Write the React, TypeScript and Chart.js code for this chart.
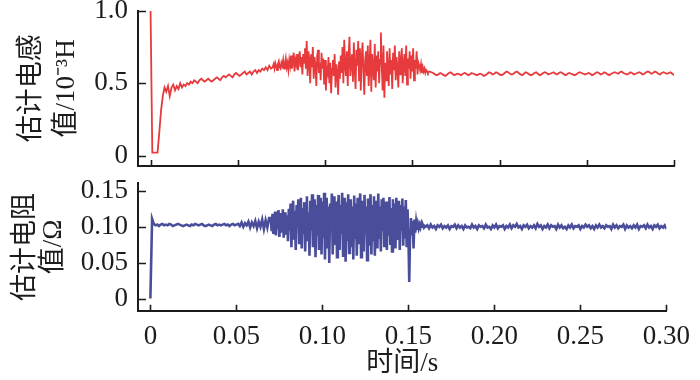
import React, { useEffect, useRef } from "react";
import { Chart, registerables } from "chart.js";

Chart.register(...registerables);

// sampling: 1 ms outside the oscillation, 0.5 ms inside it
const STEP = 0.001;
const FINE_STEP = 0.0005;
const NOISY_START = 0.07;
const STEADY_START = 0.16;

// x axis
const xTicks = [0, 0.05, 0.1, 0.15, 0.2, 0.25, 0.3];
const xTickLabels = ["0", "0.05", "0.10", "0.15", "0.20", "0.25", "0.30"];

// top panel: estimated inductance (10^-3 H)
const topTicks = [0, 0.5, 1.0];
const topTickLabels = ["0", "0.5", "1.0"];

// bottom panel: estimated resistance (Ω)
const botTicks = [0, 0.05, 0.1, 0.15];
const botTickLabels = ["0", "0.05", "0.10", "0.15"];

// inductance, t = 0 … 0.069 s (1 ms)
const inductanceStart = [
  1.0, 0.02, 0.02, 0.02, 0.02, 0.16, 0.31, 0.41, 0.47,
  0.44, 0.48, 0.41, 0.47, 0.49, 0.45, 0.48, 0.46, 0.5, 0.47, 0.49, 0.48,
  0.5, 0.49, 0.51, 0.5, 0.52, 0.51, 0.5, 0.52, 0.53, 0.52, 0.51, 0.52, 0.53, 0.52, 0.51,
  0.52, 0.53, 0.54, 0.53, 0.52, 0.54, 0.55, 0.54, 0.55, 0.56, 0.55, 0.54, 0.56, 0.57, 0.56, 0.55, 0.56, 0.57, 0.58, 0.56,
  0.57, 0.58, 0.56, 0.58, 0.59, 0.57, 0.59, 0.58, 0.6, 0.59, 0.61, 0.59, 0.62, 0.6,
];
// inductance, t = 0.0700 … 0.1595 s (0.5 ms)
const inductanceNoisy = [
  0.61, 0.63, 0.6, 0.64, 0.62, 0.59, 0.63, 0.65, 0.61, 0.6, 0.64, 0.62, 0.66, 0.6, 0.63, 0.67, 0.61, 0.64, 0.59, 0.66,
  0.62, 0.69, 0.6, 0.65, 0.71, 0.58, 0.66, 0.63, 0.7, 0.59, 0.67, 0.72, 0.61, 0.68, 0.56, 0.7, 0.64, 0.74, 0.6, 0.79,
  0.55, 0.72, 0.66, 0.5, 0.7, 0.61, 0.75, 0.53, 0.68, 0.62, 0.48, 0.69, 0.73, 0.57, 0.64, 0.52, 0.71, 0.6, 0.67, 0.49,
  0.66, 0.45, 0.62, 0.58, 0.68, 0.5, 0.64, 0.43, 0.6, 0.66, 0.55, 0.7, 0.47, 0.63, 0.58, 0.42, 0.65, 0.53, 0.69, 0.57,
  0.75, 0.5, 0.8, 0.62, 0.55, 0.72, 0.48, 0.68, 0.82, 0.55, 0.64, 0.7, 0.51, 0.78, 0.6, 0.46, 0.73, 0.62, 0.79, 0.52,
  0.74, 0.45, 0.68, 0.78, 0.58, 0.42, 0.66, 0.72, 0.55, 0.76, 0.48, 0.63, 0.8, 0.44, 0.7, 0.6, 0.52, 0.77, 0.47, 0.69,
  0.58, 0.72, 0.5, 0.66, 0.85, 0.62, 0.45, 0.76, 0.4, 0.64, 0.52, 0.72, 0.6, 0.48, 0.74, 0.56, 0.66, 0.46, 0.71, 0.59,
  0.76, 0.52, 0.68, 0.6, 0.47, 0.72, 0.56, 0.66, 0.74, 0.5, 0.63, 0.7, 0.55, 0.76, 0.49, 0.67, 0.6, 0.72, 0.53, 0.69,
  0.58, 0.74, 0.52, 0.66, 0.6, 0.72, 0.56, 0.64, 0.62, 0.59, 0.63, 0.57, 0.61, 0.58, 0.6, 0.57, 0.59, 0.58, 0.57, 0.58,
];
// inductance, t = 0.160 … 0.300 s (1 ms)
const inductanceSteady = [
  0.58,
  0.575, 0.57, 0.56, 0.555, 0.56, 0.57, 0.565, 0.555, 0.55, 0.56, 0.57, 0.575, 0.565, 0.555, 0.56, 0.565, 0.56, 0.555, 0.565, 0.57,
  0.565, 0.555, 0.56, 0.57, 0.565, 0.56, 0.555, 0.56, 0.565, 0.56, 0.55, 0.555, 0.565, 0.575, 0.57, 0.56, 0.565, 0.575, 0.57, 0.56,
  0.555, 0.56, 0.57, 0.58, 0.575, 0.565, 0.56, 0.565, 0.575, 0.58, 0.57, 0.56, 0.555, 0.565, 0.575, 0.57, 0.56, 0.555, 0.56, 0.57,
  0.575, 0.565, 0.555, 0.56, 0.57, 0.575, 0.57, 0.56, 0.565, 0.57, 0.575, 0.565, 0.56, 0.57, 0.575, 0.57, 0.56, 0.555, 0.565, 0.57,
  0.565, 0.56, 0.555, 0.56, 0.57, 0.575, 0.57, 0.565, 0.56, 0.565, 0.57, 0.565, 0.555, 0.56, 0.57, 0.575, 0.57, 0.56, 0.565, 0.575,
  0.57, 0.56, 0.555, 0.565, 0.57, 0.575, 0.57, 0.565, 0.575, 0.58, 0.57, 0.565, 0.56, 0.565, 0.575, 0.57, 0.56, 0.565, 0.57, 0.575,
  0.57, 0.56, 0.565, 0.575, 0.58, 0.575, 0.565, 0.57, 0.58, 0.575, 0.565, 0.56, 0.57, 0.575, 0.57, 0.565, 0.57, 0.575, 0.565, 0.555,
];

// resistance, t = 0 … 0.069 s (1 ms)
const resistanceStart = [
  0.001, 0.111,
  0.104, 0.102, 0.103, 0.101, 0.103, 0.104, 0.102, 0.103, 0.102, 0.104,
  0.103, 0.101, 0.102, 0.103, 0.104, 0.103, 0.102, 0.101, 0.102, 0.103,
  0.102, 0.101, 0.103, 0.102, 0.104, 0.103, 0.102, 0.103, 0.104, 0.102,
  0.101, 0.102, 0.103, 0.102, 0.101, 0.103, 0.104, 0.102, 0.103, 0.102,
  0.103, 0.104, 0.102, 0.103, 0.101, 0.103, 0.104, 0.102, 0.103,
  0.104, 0.101, 0.106, 0.1, 0.105, 0.102, 0.107, 0.099, 0.106, 0.101, 0.108, 0.098, 0.107, 0.1, 0.11, 0.097, 0.109, 0.099, 0.112,
];
// resistance, t = 0.0700 … 0.1595 s (0.5 ms)
const resistanceNoisy = [
  0.112, 0.094, 0.118, 0.09, 0.106, 0.121, 0.088, 0.115, 0.097, 0.123, 0.086, 0.11, 0.119, 0.092, 0.124, 0.085, 0.108, 0.12, 0.089, 0.116,
  0.08, 0.125, 0.095, 0.132, 0.072, 0.118, 0.136, 0.084, 0.122, 0.068, 0.13, 0.1, 0.138, 0.076, 0.115, 0.14, 0.07, 0.126, 0.09, 0.134,
  0.066, 0.128, 0.142, 0.08, 0.12, 0.06, 0.136, 0.095, 0.145, 0.072, 0.118, 0.138, 0.058, 0.13, 0.088, 0.144, 0.068, 0.124, 0.14, 0.062,
  0.135, 0.085, 0.147, 0.055, 0.12, 0.14, 0.07, 0.128, 0.05, 0.132, 0.098, 0.146, 0.062, 0.118, 0.142, 0.075, 0.135, 0.058, 0.126, 0.144,
  0.068, 0.13, 0.09, 0.147, 0.06, 0.122, 0.14, 0.052, 0.134, 0.08, 0.145, 0.064, 0.116, 0.138, 0.072, 0.128, 0.055, 0.143, 0.085, 0.132,
  0.06, 0.14, 0.076, 0.126, 0.146, 0.058, 0.118, 0.136, 0.066, 0.144, 0.09, 0.128, 0.054, 0.139, 0.074, 0.121, 0.145, 0.062, 0.13, 0.082,
  0.142, 0.06, 0.125, 0.136, 0.07, 0.146, 0.085, 0.128, 0.066, 0.138, 0.094, 0.14, 0.072, 0.12, 0.135, 0.068, 0.13, 0.088, 0.141, 0.075,
  0.126, 0.066, 0.138, 0.09, 0.132, 0.07, 0.14, 0.082, 0.122, 0.136, 0.068, 0.13, 0.095, 0.139, 0.074, 0.128, 0.084, 0.137, 0.072, 0.124,
  0.09, 0.024, 0.095, 0.112, 0.088, 0.108, 0.07, 0.11, 0.092, 0.106, 0.096, 0.104, 0.098, 0.103, 0.099, 0.104, 0.1, 0.102, 0.099, 0.101,
];
// resistance, t = 0.160 … 0.300 s (1 ms)
const resistanceSteady = [
  0.1,
  0.102, 0.098, 0.103, 0.099, 0.101, 0.097, 0.102, 0.1, 0.103, 0.098, 0.101, 0.099, 0.102, 0.097, 0.101, 0.1, 0.103, 0.098, 0.102, 0.099,
  0.101, 0.097, 0.102, 0.099, 0.1, 0.098, 0.103, 0.099, 0.101, 0.097, 0.102, 0.1, 0.101, 0.098, 0.103, 0.099, 0.1, 0.097, 0.102, 0.099,
  0.103, 0.098, 0.101, 0.1, 0.102, 0.097, 0.101, 0.099, 0.103, 0.098, 0.102, 0.1, 0.104, 0.099, 0.101, 0.097, 0.102, 0.1, 0.103, 0.098,
  0.101, 0.099, 0.102, 0.098, 0.104, 0.1, 0.102, 0.097, 0.101, 0.099, 0.103, 0.098, 0.102, 0.1, 0.101, 0.097, 0.103, 0.099, 0.102, 0.098,
  0.1, 0.097, 0.102, 0.099, 0.103, 0.098, 0.101, 0.1, 0.102, 0.097, 0.101, 0.099, 0.103, 0.1, 0.102, 0.098, 0.101, 0.097, 0.102, 0.099,
  0.103, 0.099, 0.101, 0.098, 0.102, 0.1, 0.101, 0.097, 0.103, 0.099, 0.102, 0.098, 0.101, 0.1, 0.103, 0.097, 0.102, 0.099, 0.101, 0.098,
  0.102, 0.099, 0.103, 0.097, 0.101, 0.1, 0.102, 0.098, 0.103, 0.099, 0.101, 0.097, 0.102, 0.1, 0.103, 0.098, 0.101, 0.099, 0.102, 0.097,
];

const FONT = "'Liberation Serif', 'Noto Sans CJK SC', serif";
const INK = "#1c1c1c";
const RED = "#e63a3c";
const BLUE = "#4a4e9a";
const X_MIN = -0.0072;
const X_MAX = 0.3;

const toPoints = (vals: number[], t0: number, step: number) =>
  vals.map((v, i) => ({ x: +(t0 + i * step).toFixed(5), y: v }));

const series = (start: number[], noisy: number[], steady: number[]) => [
  ...toPoints(start, 0, STEP),
  ...toPoints(noisy, NOISY_START, FINE_STEP),
  ...toPoints(steady, STEADY_START, STEP),
];

const inwardTicks = {
  id: "inwardTicks",
  afterDraw(chart: any) {
    const { ctx, chartArea } = chart;
    const xs = chart.scales.x;
    const ys = chart.scales.y;
    ctx.save();
    ctx.strokeStyle = INK;
    ctx.lineWidth = 1.6;
    ctx.beginPath();
    xs.ticks.forEach((t: any) => {
      const px = Math.round(xs.getPixelForValue(t.value)) + 0.5;
      ctx.moveTo(px, chartArea.bottom);
      ctx.lineTo(px, chartArea.bottom - 6);
    });
    ys.ticks.forEach((t: any) => {
      const py = Math.round(ys.getPixelForValue(t.value)) + 0.5;
      ctx.moveTo(chartArea.left, py);
      ctx.lineTo(chartArea.left + 8, py);
    });
    ctx.stroke();
    ctx.restore();
  },
};

function makeConfig(opts: {
  points: { x: number; y: number }[];
  color: string;
  width: number;
  yMin: number;
  yMax: number;
  yTicks: number[];
  yLabels: string[];
  title: string[];
  titleLineHeight: number;
  titlePad: number;
  padTop: number;
  xHeight: number;
  showX: boolean;
}) {
  return {
    type: "line" as const,
    data: {
      datasets: [
        {
          data: opts.points,
          borderColor: opts.color,
          borderWidth: opts.width,
          pointRadius: 0,
          tension: 0,
          fill: false,
        },
      ],
    },
    options: {
      animation: false as const,
      responsive: false,
      maintainAspectRatio: false,
      layout: { padding: { top: opts.padTop, right: 26, left: 0, bottom: 0 } },
      plugins: { legend: { display: false }, tooltip: { enabled: false } },
      scales: {
        x: {
          type: "linear" as const,
          min: X_MIN,
          max: X_MAX,
          grid: { display: false, drawTicks: false },
          border: { display: true, color: INK, width: 2 },
          afterBuildTicks: (s: any) => {
            s.ticks = xTicks.map((v) => ({ value: v }));
          },
          afterFit: (s: any) => {
            s.height = opts.xHeight;
          },
          ticks: {
            display: opts.showX,
            autoSkip: false,
            maxRotation: 0,
            padding: 10,
            color: INK,
            font: { family: FONT, size: 27 },
            callback: (v: any) => {
              const i = xTicks.indexOf(v);
              return i >= 0 ? xTickLabels[i] : "";
            },
          },
          title: {
            display: opts.showX,
            text: "时间/s",
            color: INK,
            font: { family: FONT, size: 27 },
            padding: { top: 0, bottom: 0 },
          },
        },
        y: {
          type: "linear" as const,
          min: opts.yMin,
          max: opts.yMax,
          grid: { display: false, drawTicks: false },
          border: { display: true, color: INK, width: 2 },
          afterBuildTicks: (s: any) => {
            s.ticks = opts.yTicks.map((v) => ({ value: v }));
          },
          afterFit: (s: any) => {
            s.width = 138;
          },
          ticks: {
            autoSkip: false,
            padding: 10,
            color: INK,
            font: { family: FONT, size: 27, lineHeight: 0.05 },
            callback: (v: any) => {
              const i = opts.yTicks.indexOf(v);
              return i >= 0 ? opts.yLabels[i] : "";
            },
          },
          title: {
            display: true,
            text: opts.title,
            color: INK,
            font: { family: FONT, size: 27, lineHeight: opts.titleLineHeight },
            padding: { top: opts.titlePad, bottom: 0 },
          },
        },
      },
    },
    plugins: [inwardTicks],
  };
}

export default function App() {
  const topRef = useRef<HTMLCanvasElement | null>(null);
  const botRef = useRef<HTMLCanvasElement | null>(null);

  useEffect(() => {
    document.body.style.margin = "0";
    const top = new Chart(
      topRef.current as HTMLCanvasElement,
      makeConfig({
        points: series(inductanceStart, inductanceNoisy, inductanceSteady),
        color: RED,
        width: 1.8,
        yMin: -0.072,
        yMax: 1.0,
        yTicks: topTicks,
        yLabels: topTickLabels,
        title: ["估计电感", "值/10⁻³H"],
        titleLineHeight: 1.33,
        titlePad: 13.5,
        padTop: 10.7,
        xHeight: 11,
        showX: false,
      }) as any
    );
    const bot = new Chart(
      botRef.current as HTMLCanvasElement,
      makeConfig({
        points: series(resistanceStart, resistanceNoisy, resistanceSteady),
        color: BLUE,
        width: 2.6,
        yMin: -0.0157,
        yMax: 0.16,
        yTicks: botTicks,
        yLabels: botTickLabels,
        title: ["估计电阻", "值/Ω"],
        titleLineHeight: 1.04,
        titlePad: 12,
        padTop: 11.3,
        xHeight: 69.3,
        showX: true,
      }) as any
    );
    return () => {
      top.destroy();
      bot.destroy();
    };
  }, []);

  return (
    <div style={{ position: "relative", width: 700, height: 380, background: "#fff", overflow: "hidden" }}>
      <canvas ref={topRef} width={700} height={177} style={{ position: "absolute", left: 0, top: 0 }} />
      <canvas ref={botRef} width={700} height={208} style={{ position: "absolute", left: 0, top: 172 }} />
    </div>
  );
}
